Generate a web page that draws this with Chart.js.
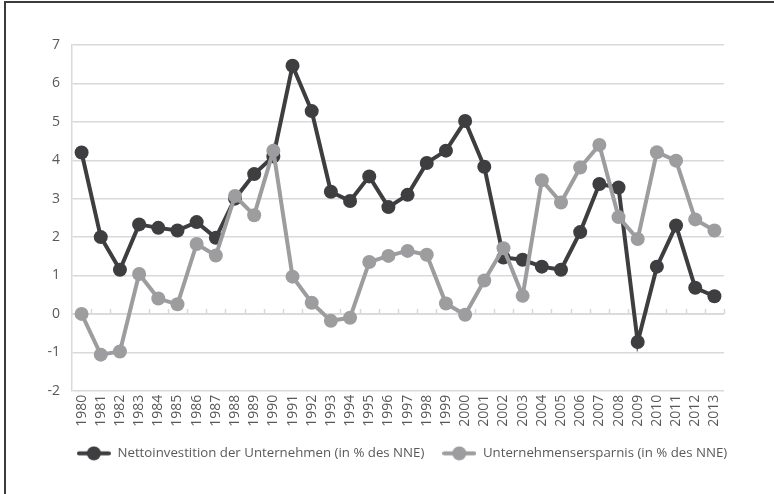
<!DOCTYPE html>
<html>
<head>
<meta charset="utf-8">
<script src="https://cdn.jsdelivr.net/npm/chart.js@4"></script>
<style>
  html, body { margin: 0; padding: 0; background: #fff; }
  #wrap { position: relative; width: 774px; height: 494px; }
  #frame { position: absolute; left: 4px; top: 1px; right: -4px; bottom: -4px; border-left: 2px solid #3c3c3c; border-top: 2px solid #3c3c3c; }
  canvas { position: absolute; left: 0; top: 0; }
</style>
</head>
<body>
<div id="wrap">
  <div id="frame"></div>
  <canvas id="chart" width="774" height="494"></canvas>
</div>
<script>
const years = ["1980","1981","1982","1983","1984","1985","1986","1987","1988","1989",
  "1990","1991","1992","1993","1994","1995","1996","1997","1998","1999",
  "2000","2001","2002","2003","2004","2005","2006","2007","2008","2009",
  "2010","2011","2012","2013"]

const nettoinvestition = [4.2, 2.0, 1.15, 2.33, 2.24, 2.17, 2.39, 1.98, 3.0, 3.64,
  4.1, 6.46, 5.28, 3.18, 2.94, 3.58, 2.78, 3.1, 3.93, 4.25,
  5.02, 3.83, 1.47, 1.41, 1.23, 1.15, 2.13, 3.38, 3.29, -0.73,
  1.23, 2.3, 0.68, 0.46]

const ersparnis = [0.0, -1.06, -0.98, 1.04, 0.4, 0.25, 1.82, 1.52, 3.07, 2.57,
  4.25, 0.97, 0.29, -0.18, -0.1, 1.35, 1.51, 1.64, 1.54, 0.27,
  -0.02, 0.87, 1.71, 0.47, 3.48, 2.9, 3.81, 4.4, 2.52, 1.95,
  4.21, 3.99, 2.46, 2.17]

const seriesNames = ["Nettoinvestition der Unternehmen (in % des NNE)", "Unternehmensersparnis (in % des NNE)"]

const dark = "#3e3e40"
const light = "#9d9d9f"
const textColor = "#595959"
const gridColor = "#d9d9d9"

// legend marker: line with a dot in the middle
function legendMarker(color) {
  const c = document.createElement("canvas")
  c.width = 34
  c.height = 15
  const ctx = c.getContext("2d")
  ctx.strokeStyle = color
  ctx.lineWidth = 4
  ctx.lineCap = "round"
  ctx.beginPath()
  ctx.moveTo(2, 7.5)
  ctx.lineTo(32, 7.5)
  ctx.stroke()
  ctx.fillStyle = color
  ctx.beginPath()
  ctx.arc(17, 7.5, 7, 0, Math.PI * 2)
  ctx.fill()
  return c
}

// small tick marks along the zero line
const zeroTicks = {
  id: "zeroTicks",
  beforeDatasetsDraw(chart) {
    const x = chart.scales.x
    const y0 = chart.scales.y.getPixelForValue(0)
    const ctx = chart.ctx
    const step = (x.right - x.left) / years.length
    ctx.save()
    ctx.strokeStyle = gridColor
    ctx.lineWidth = 1.5
    ctx.beginPath()
    ctx.moveTo(x.left, y0)
    ctx.lineTo(x.right, y0)
    for (let i = 1; i <= years.length; i++) {
      const px = Math.round(x.left + i * step) + 0.5
      ctx.moveTo(px, y0)
      ctx.lineTo(px, y0 - 5)
    }
    ctx.stroke()
    ctx.restore()
  },
}

const tickFont = { family: "'Open Sans', sans-serif", size: 14 }
const legendFont = { family: "'Open Sans', sans-serif", size: 13.25 }

new Chart(document.getElementById("chart"), {
  type: "line",
  data: {
    labels: years,
    datasets: [
      {
        label: seriesNames[0],
        data: nettoinvestition,
        order: 1,
        borderColor: dark,
        backgroundColor: dark,
        borderWidth: 4,
        pointRadius: 7,
        pointHoverRadius: 7,
        pointBackgroundColor: dark,
        pointBorderWidth: 0,
        tension: 0,
      },
      {
        label: seriesNames[1],
        data: ersparnis,
        order: 0,
        borderColor: light,
        backgroundColor: light,
        borderWidth: 4,
        pointRadius: 7,
        pointHoverRadius: 7,
        pointBackgroundColor: light,
        pointBorderWidth: 0,
        tension: 0,
      },
    ],
  },
  options: {
    responsive: false,
    animation: false,
    layout: { padding: { left: 40, top: 45, right: 10, bottom: 24 } },
    scales: {
      x: {
        offset: true,
        grid: { display: false, drawTicks: false },
        border: { display: false },
        ticks: { color: textColor, font: tickFont, minRotation: 90, maxRotation: 90, padding: 4, autoSkip: false },
        afterFit(scale) { scale.height = 38 },
      },
      y: {
        min: -2,
        max: 7,
        grid: { color: gridColor, lineWidth: 1.5, drawTicks: false },
        border: { display: true, color: gridColor, width: 1.5 },
        ticks: { color: textColor, font: tickFont, stepSize: 1, padding: 12 },
        afterFit(scale) { scale.width = 32 },
      },
      // empty right axis, only keeps space on the right of the plot
      yRight: {
        position: "right",
        grid: { display: false, drawTicks: false },
        border: { display: false },
        ticks: { display: false },
        afterFit(scale) { scale.width = 40 },
      },
    },
    plugins: {
      legend: {
        position: "bottom",
        labels: {
          color: textColor,
          font: legendFont,
          usePointStyle: true,
          pointStyleWidth: 34,
          padding: 18,
          generateLabels(chart) {
            return chart.data.datasets.map((ds, i) => ({
              text: ds.label,
              fillStyle: ds.borderColor,
              strokeStyle: ds.borderColor,
              fontColor: textColor,
              pointStyle: legendMarker(ds.borderColor),
              datasetIndex: i,
              hidden: false,
              lineWidth: 0,
            }))
          },
        },
      },
      tooltip: { enabled: false },
    },
  },
  plugins: [zeroTicks],
})
</script>
</body>
</html>
